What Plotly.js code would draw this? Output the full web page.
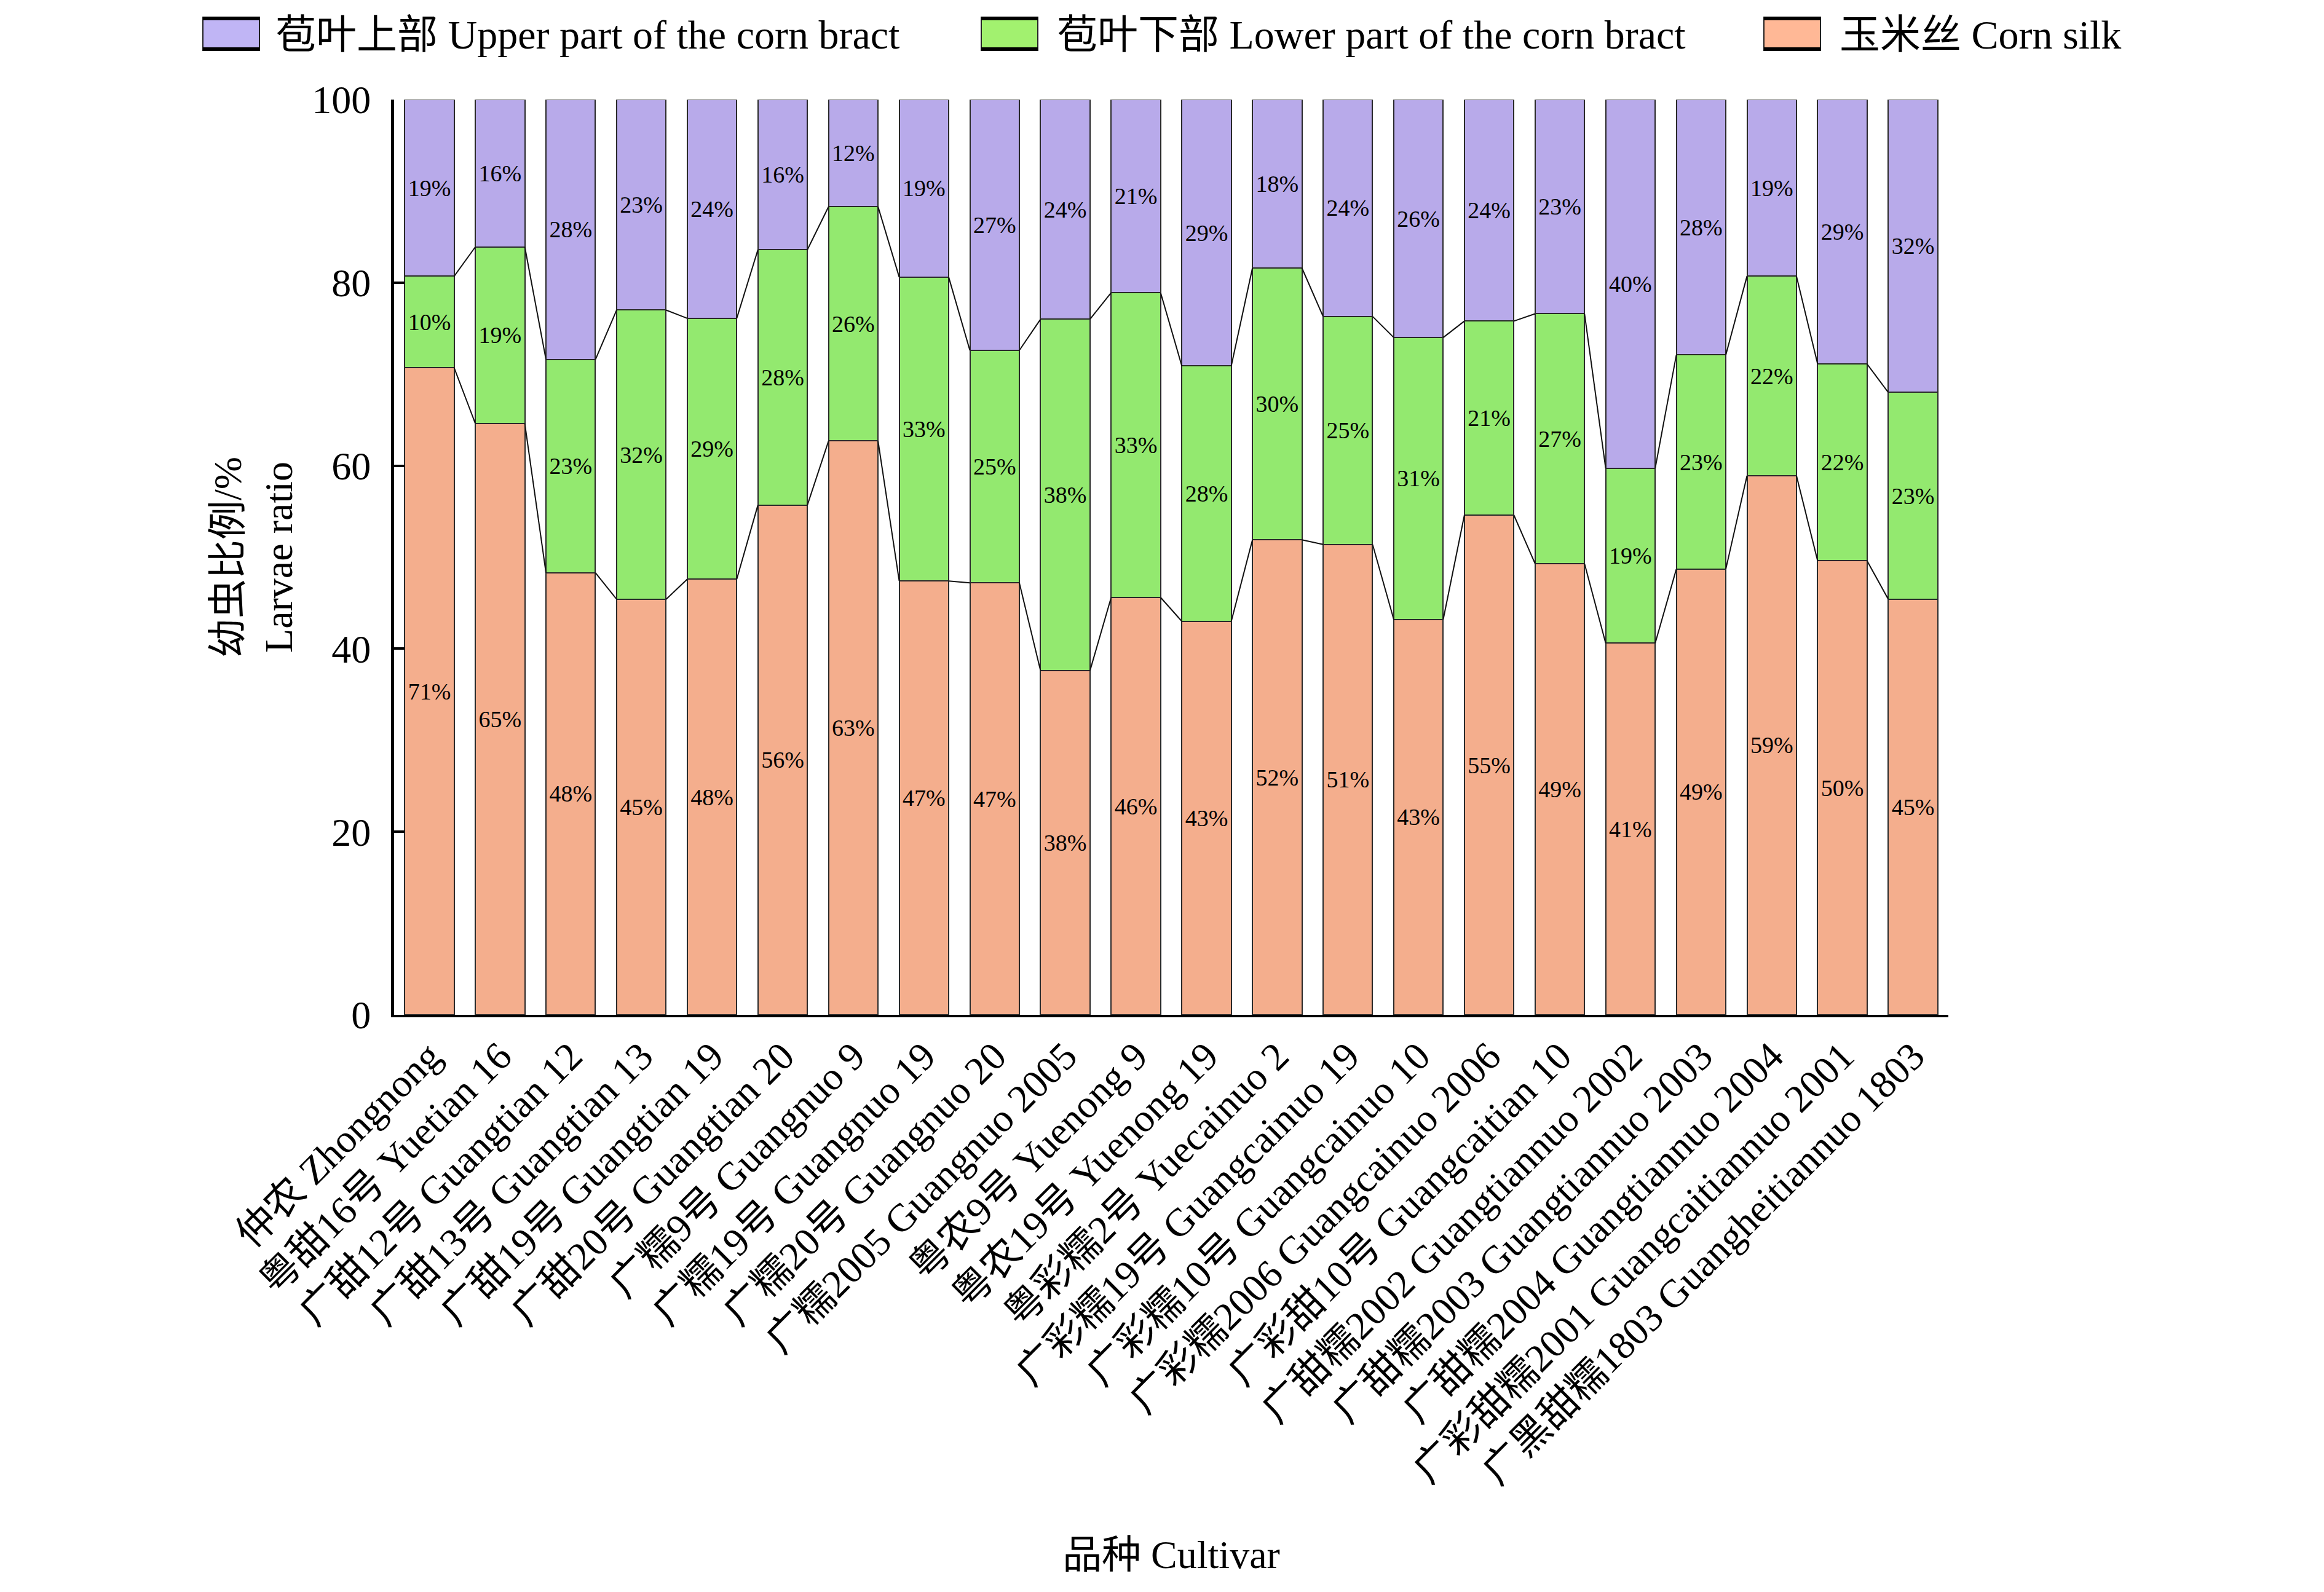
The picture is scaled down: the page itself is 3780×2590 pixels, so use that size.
<!DOCTYPE html>
<html>
<head>
<meta charset="utf-8">
<script src="https://cdn.plot.ly/plotly-3.0.1.min.js"></script>
<style>html,body{margin:0;padding:0;background:#fff;}#chart{width:3780px;height:2590px;}</style>
</head>
<body>
<div id="chart"></div>
<script>
const categories = ['仲农 Zhongnong','粤甜16号 Yuetian 16','广甜12号 Guangtian 12','广甜13号 Guangtian 13','广甜19号 Guangtian 19','广甜20号 Guangtian 20','广糯9号 Guangnuo 9','广糯19号 Guangnuo 19','广糯20号 Guangnuo 20','广糯2005 Guangnuo 2005','粤农9号 Yuenong 9','粤农19号 Yuenong 19','粤彩糯2号 Yuecainuo 2','广彩糯19号 Guangcainuo 19','广彩糯10号 Guangcainuo 10','广彩糯2006 Guangcainuo 2006','广彩甜10号 Guangcaitian 10','广甜糯2002 Guangtiannuo 2002','广甜糯2003 Guangtiannuo 2003','广甜糯2004 Guangtiannuo 2004','广彩甜糯2001 Guangcaitiannuo 2001','广黑甜糯1803 Guangheitiannuo 1803'];
const cornSilk = [70.7,64.6,48.3,45.4,47.6,55.7,62.7,47.4,47.2,37.6,45.6,43.0,51.9,51.4,43.2,54.6,49.3,40.6,48.7,58.9,49.6,45.4];
const lowerBract = [10.0,19.3,23.3,31.6,28.5,27.9,25.6,33.2,25.4,38.4,33.3,27.9,29.7,24.9,30.8,21.2,27.3,19.1,23.4,21.8,21.5,22.6];
const upperBract = [19.3,16.1,28.4,23.0,23.9,16.4,11.7,19.4,27.4,24.0,21.1,29.1,18.4,23.7,26.0,24.2,23.4,40.3,27.9,19.3,28.9,32.0];
const seriesNames = ['苞叶上部 Upper part of the corn bract','苞叶下部 Lower part of the corn bract','玉米丝 Corn silk'];
const yTicks = [0,20,40,60,80,100];
const yTitle = '幼虫比例/%<br>Larvae ratio';
const xTitle = '品种 Cultivar';

const FONT = '"Liberation Serif", "Times New Roman", "Noto Sans CJK SC", serif';
const barColors = {upper:'#B8AAEA', lower:'#93E96F', silk:'#F4AE8D'};
const legendColors = ['#C0B5F5','#A2F16F','#FFB896'];
const BW = 0.7;
const idx = categories.map((_, i) => i);

function barTrace(vals, name, color) {
  return {
    type:'bar', x: idx, y: vals, name: name, width: BW,
    marker:{color: color, line:{color:'#2a2a2a', width:2}},
    text: vals.map(v => Math.round(v) + '%'),
    textposition:'inside', insidetextanchor:'middle', textangle:0,
    constraintext:'none',
    textfont:{family: FONT, size:38, color:'#000'},
    hoverinfo:'skip', showlegend:false
  };
}

function connector(levels) {
  const xs = [], ys = [];
  for (let i = 0; i < levels.length - 1; i++) {
    xs.push(i + BW/2, i + 1 - BW/2, null);
    ys.push(levels[i], levels[i+1], null);
  }
  return {type:'scatter', mode:'lines', x: xs, y: ys, line:{color:'#111', width:2},
          hoverinfo:'skip', showlegend:false, cliponaxis:false};
}

const level1 = cornSilk.slice();
const level2 = cornSilk.map((v, i) => v + lowerBract[i]);

const data = [
  barTrace(cornSilk, seriesNames[2], barColors.silk),
  barTrace(lowerBract, seriesNames[1], barColors.lower),
  barTrace(upperBract, seriesNames[0], barColors.upper),
  connector(level1),
  connector(level2)
];

// plot area in pixels
const L = 641, R = 3169, T = 162, B = 1651, W = 3780, H = 2590;
const px = x => (x - L) / (R - L);
const py = y => (B - y) / (B - T);

const shapes = [], annotations = [];
const legendSw = [330, 1596, 2869];
const legendTx = [446, 1717, 2990];
for (let k = 0; k < 3; k++) {
  shapes.push({type:'rect', xref:'paper', yref:'paper', x0:px(legendSw[k]), x1:px(legendSw[k]+92),
    y0:py(82), y1:py(28), fillcolor: legendColors[k], line:{color:'#222', width:2}});
  shapes.push({type:'line', xref:'paper', yref:'paper', x0:px(legendSw[k]), x1:px(legendSw[k]+92),
    y0:py(30), y1:py(30), line:{color:'#000', width:6}});
  shapes.push({type:'line', xref:'paper', yref:'paper', x0:px(legendSw[k]), x1:px(legendSw[k]+92),
    y0:py(80), y1:py(80), line:{color:'#000', width:6}});
  annotations.push({xref:'paper', yref:'paper', x:px(legendTx[k]), y:py(56), xanchor:'left', yanchor:'middle',
    text: seriesNames[k], showarrow:false, font:{family:FONT, size:66, color:'#000'}});
}

const layout = {
  width: W, height: H,
  margin:{l:L, r:W-R, t:T, b:H-B, pad:0},
  paper_bgcolor:'#fff', plot_bgcolor:'#fff',
  barmode:'stack', bargap:0.3,
  showlegend:false,
  font:{family:FONT, size:64, color:'#000'},
  xaxis:{
    range:[-0.5, categories.length - 0.5], tickvals: idx, ticktext: categories,
    tickangle:-45, ticks:'', showgrid:false, zeroline:false,
    showline:true, linecolor:'#000', linewidth:4,
    tickfont:{family:FONT, size:64, color:'#000'},
    title:{text:xTitle, font:{family:FONT, size:64, color:'#000'}, standoff:80},
    automargin:false
  },
  yaxis:{
    range:[0,100], tickvals:yTicks, ticks:'inside', ticklen:17, tickwidth:4, tickcolor:'#000',
    showgrid:false, zeroline:false, showline:true, linecolor:'#000', linewidth:5,
    tickfont:{family:FONT, size:64, color:'#000'}, ticklabelstandoff:20,
    title:{text:yTitle, font:{family:FONT, size:64, color:'#000'}, standoff:12},
    automargin:false
  },
  shapes: shapes,
  annotations: annotations
};

Plotly.newPlot('chart', data, layout, {staticPlot:true, displayModeBar:false});
</script>
</body>
</html>
